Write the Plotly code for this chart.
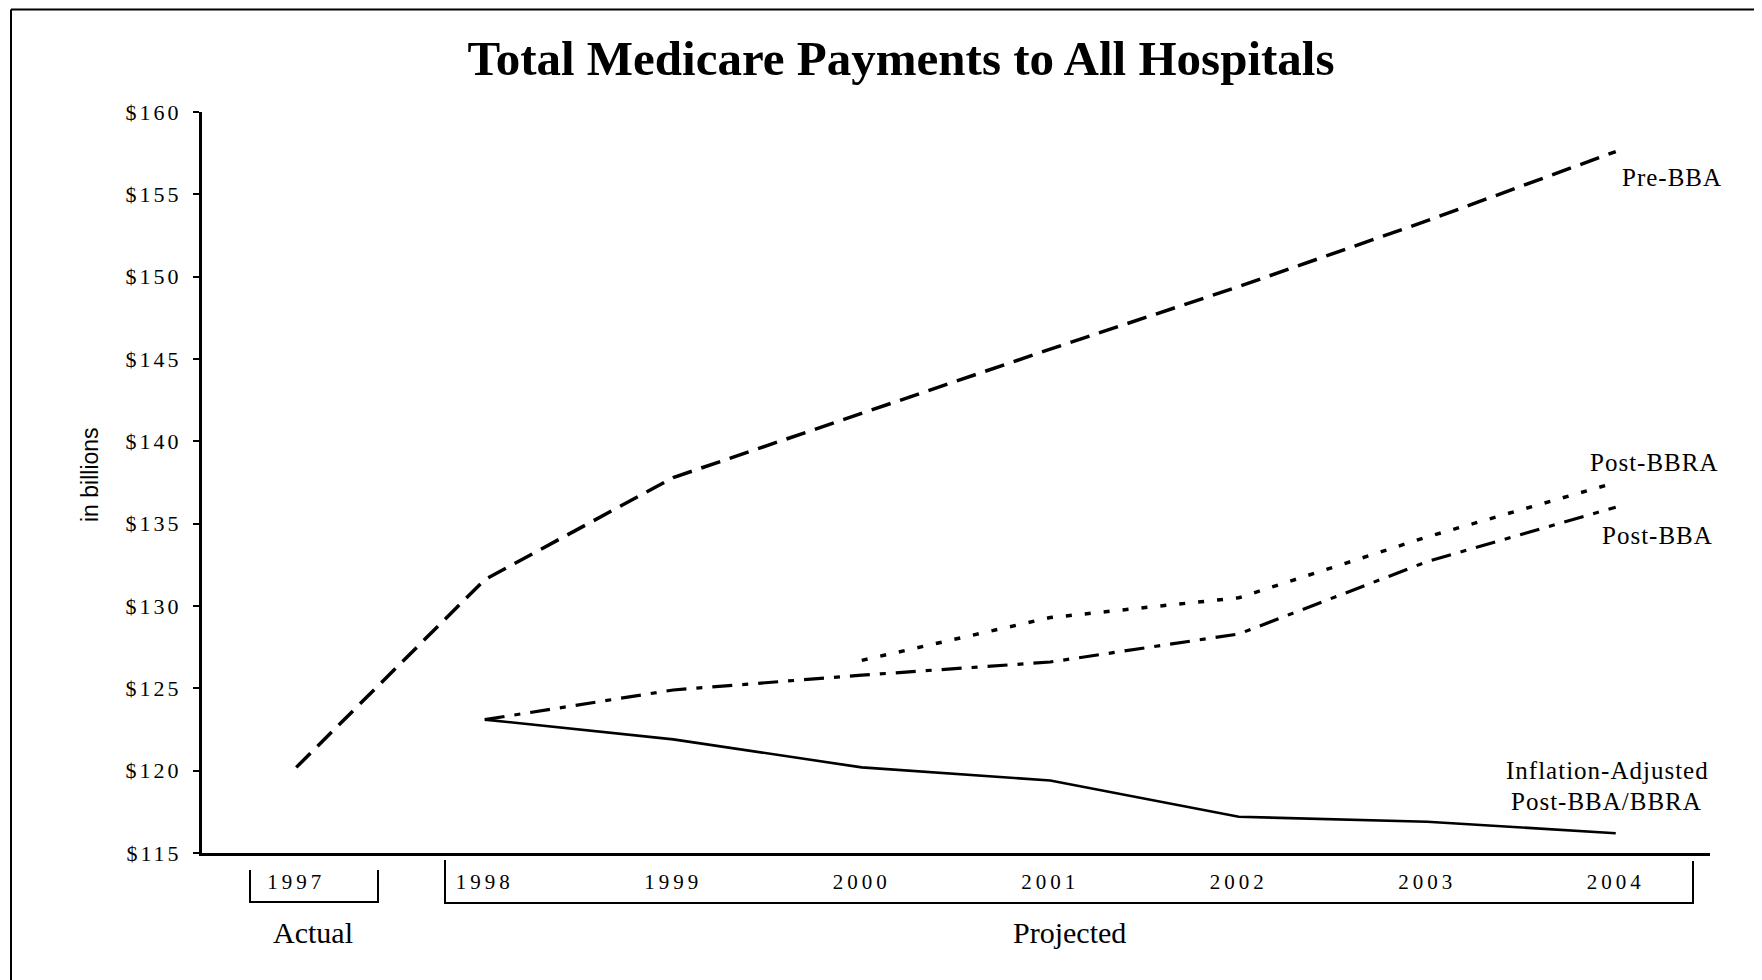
import plotly.graph_objects as go

# ---------------- data ----------------
years = ["1997", "1998", "1999", "2000", "2001", "2002", "2003", "2004"]
pre_bba = [120.2, 131.6, 137.8, 141.7, 145.6, 149.4, 153.4, 157.6]
post_bba = [None, 123.1, 124.9, 125.8, 126.6, 128.3, 132.7, 136.0]
post_bbra = [None, None, None, 126.7, 129.3, 130.5, 134.2, 137.5]
infl_adj = [None, 123.1, 121.9, 120.2, 119.4, 117.2, 116.9, 116.2]
y_ticks = [115, 120, 125, 130, 135, 140, 145, 150, 155, 160]

SERIF = "Liberation Serif, Times New Roman, serif"
SANS = "Liberation Sans, Arial, sans-serif"

OFF = 8  # page body margin
W, H = 1762 - OFF, 980 - OFF
L, R, T, B = 202, 1710, 112, 853  # plot area in screen pixels


def px(x):
    return (x - L) / (R - L)


def py(y):
    return (B - y) / (B - T)


def spaced(s, sp=3):
    return f'<span style="letter-spacing:{sp}px">{s}</span>'


fig = go.Figure()
fig.add_trace(go.Scatter(x=years, y=pre_bba, mode="lines", name="Pre-BBA",
                         line=dict(color="black", width=3.5, dash="20px,10px")))
fig.add_trace(go.Scatter(x=years, y=post_bba, mode="lines", name="Post-BBA",
                         line=dict(color="black", width=3.2, dash="20px,10px,6px,10px")))
fig.add_trace(go.Scatter(x=years, y=post_bbra, mode="lines", name="Post-BBRA",
                         line=dict(color="black", width=3.5, dash="6px,13px")))
fig.add_trace(go.Scatter(x=years, y=infl_adj, mode="lines", name="Inflation-Adjusted Post-BBA/BBRA",
                         line=dict(color="black", width=2.6)))

ml, mt = L - OFF, T - OFF
mr = W - ml - (R - L)
mb = H - mt - (B - T)

fig.update_layout(
    width=W, height=H,
    margin=dict(l=ml, r=mr, t=mt, b=mb, pad=0),
    paper_bgcolor="white", plot_bgcolor="white",
    showlegend=False,
    font=dict(family=SERIF, color="black", size=22),
    title=dict(text="<b>Total Medicare Payments to All Hospitals</b>",
               x=px(901), xanchor="center", xref="paper",
               y=1 - (58 - OFF) / H, yanchor="middle",
               font=dict(family=SERIF, size=49, color="black")),
)

fig.update_xaxes(
    type="category", range=[-0.5, 7.5],
    showline=True, linecolor="black", linewidth=3,
    showgrid=False, zeroline=False, ticks="",
    tickvals=years, ticktext=[spaced(y, 4) for y in years],
    tickfont=dict(family=SERIF, size=21),
    ticklabelstandoff=8,
)
fig.update_yaxes(
    range=[115, 160],
    showline=True, linecolor="black", linewidth=3,
    showgrid=False, zeroline=False,
    ticks="outside", ticklen=6, tickwidth=2, tickcolor="black",
    tickvals=y_ticks, ticktext=[spaced(f"${v}", 3) for v in y_ticks],
    tickfont=dict(family=SERIF, size=22),
    ticklabelstandoff=7,
)

# y-axis title
fig.add_annotation(text="in billions", xref="paper", yref="paper",
                   x=px(90), y=py(475), textangle=-90, showarrow=False,
                   font=dict(family=SANS, size=23, color="black"),
                   xanchor="center", yanchor="middle")

# series labels
labels = [
    ("Pre-BBA", 1672, 178),
    ("Post-BBRA", 1654, 462),
    ("Post-BBA", 1657, 535),
    ("Inflation-Adjusted", 1607, 770),
    ("Post-BBA/BBRA", 1606, 801),
]
for txt, lx, ly in labels:
    fig.add_annotation(text=spaced(txt, 1), xref="paper", yref="paper",
                       x=px(lx), y=py(ly), showarrow=False,
                       font=dict(family=SERIF, size=25, color="black"),
                       xanchor="center", yanchor="middle")

# Actual / Projected
for txt, lx, ly in [("Actual", 313, 933), ("Projected", 1069, 933)]:
    fig.add_annotation(text=txt, xref="paper", yref="paper",
                       x=px(lx), y=py(ly), showarrow=False,
                       font=dict(family=SERIF, size=30, color="black"),
                       xanchor="center", yanchor="middle")

# brackets
line_style = dict(color="black", width=2)
fig.add_shape(type="path", xref="paper", yref="paper",
              path=f"M {px(250)} {py(870)} L {px(250)} {py(902)} L {px(378)} {py(902)} L {px(378)} {py(870)}",
              line=line_style)
fig.add_shape(type="path", xref="paper", yref="paper",
              path=f"M {px(445)} {py(860)} L {px(445)} {py(903)} L {px(1693)} {py(903)} L {px(1693)} {py(861)}",
              line=line_style)

# outer frame (left and top edges visible)
fig.add_shape(type="line", xref="paper", yref="paper",
              x0=px(11), y0=py(9.5), x1=px(11), y1=py(990), line=line_style)
fig.add_shape(type="line", xref="paper", yref="paper",
              x0=px(11), y0=py(9.5), x1=px(1770), y1=py(9.5), line=line_style)

fig.write_html("out.html")
